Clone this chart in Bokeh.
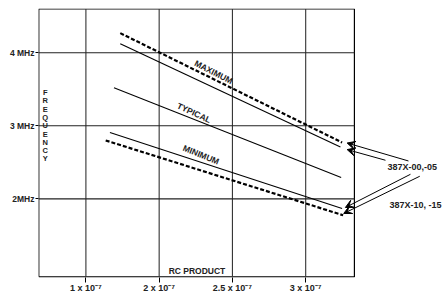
from bokeh.plotting import figure
from bokeh.models import ColumnDataSource, FixedTicker, Arrow, VeeHead
from bokeh.core.properties import value
from bokeh.embed import file_html
from bokeh.resources import INLINE

# ---- data (x: tick index positions, y: MHz) ----
x_ticks = [1, 2, 3, 4]
x_tick_labels = ["1 x 10\u207b\u2077", "2 x 10\u207b\u2077", "2.5 x 10\u207b\u2077", "3 x 10\u207b\u2077"]
y_ticks = [2, 3, 4]
y_tick_labels = ["2MHz", "3 MHz", "4 MHz"]

box_x = [0.357, 4.665]
box_y = [0.934, 4.598]

max_dashed_x = [1.469, 4.497]
max_dashed_y = [4.268, 2.772]
max_solid_x = [1.469, 4.474]
max_solid_y = [4.123, 2.709]
typical_x = [1.383, 4.484]
typical_y = [3.522, 2.294]
min_solid_x = [1.328, 4.497]
min_solid_y = [2.908, 1.869]
min_dashed_x = [1.270, 4.511]
min_dashed_y = [2.800, 1.777]

curve_labels = ["MAXIMUM", "TYPICAL", "MINIMUM"]
curve_label_x = [2.743, 2.475, 2.572]
curve_label_y = [3.735, 3.178, 2.604]
curve_label_angle = [-0.47, -0.43, -0.39]

arrow_x_start = [5.403, 5.089, 5.430, 5.557]
arrow_y_start = [2.519, 2.529, 2.337, 2.310]
arrow_x_end = [4.566, 4.566, 4.542, 4.519]
arrow_y_end = [2.765, 2.675, 1.883, 1.801]

part_labels = ["387X-00,-05", "387X-10, -15"]
part_label_x = [5.454, 5.50]
part_label_y = [2.437, 1.914]

FONT = "Liberation Sans"

p = figure(width=446, height=296, x_range=(0.353, 5.922), y_range=(0.925, 4.605),
           output_backend="svg", toolbar_location=None,
           min_border_left=38, min_border_right=0, min_border_top=8, min_border_bottom=19)
p.outline_line_color = None
p.xgrid.visible = False
p.ygrid.visible = False
p.background_fill_color = "white"
p.border_fill_color = "white"

for ax in (p.xaxis[0], p.yaxis[0]):
    ax.axis_line_color = None
    ax.minor_tick_line_color = None
    ax.major_tick_in = 0
    ax.major_tick_line_color = "black"
    ax.major_label_text_font = FONT
    ax.major_label_text_font_style = "bold"
    ax.major_label_text_color = "#222222"
    ax.major_label_text_font_size = "8.5px"

p.xaxis.ticker = FixedTicker(ticks=x_ticks)
p.xaxis.major_label_overrides = dict(zip(x_ticks, x_tick_labels))
p.xaxis.major_tick_out = 5
p.xaxis.major_label_standoff = 0
p.xaxis.major_label_text_font_size = "9px"
p.yaxis.ticker = FixedTicker(ticks=y_ticks)
p.yaxis.major_label_overrides = dict(zip(y_ticks, y_tick_labels))
p.yaxis.major_tick_out = 3
p.yaxis.major_label_standoff = 1

# box frame
p.multi_line(xs=[[box_x[0], box_x[1], box_x[1], box_x[0], box_x[0]]],
             ys=[[box_y[0], box_y[0], box_y[1], box_y[1], box_y[0]]],
             line_color="black", line_width=1.2)
# grid lines within the box
p.segment(x0=x_ticks, x1=x_ticks, y0=[box_y[0]] * len(x_ticks), y1=[box_y[1]] * len(x_ticks),
          line_color="#333333", line_width=1.1)
p.segment(x0=[box_x[0]] * len(y_ticks), x1=[box_x[1]] * len(y_ticks), y0=y_ticks, y1=y_ticks,
          line_color="#222222", line_width=1.1)

# curves
p.line(max_dashed_x, max_dashed_y, line_color="black", line_width=2.2, line_dash="4 2")
p.line(max_solid_x, max_solid_y, line_color="black", line_width=1.1)
p.line(typical_x, typical_y, line_color="black", line_width=1.1)
p.line(min_solid_x, min_solid_y, line_color="black", line_width=1.1)
p.line(min_dashed_x, min_dashed_y, line_color="black", line_width=2.2, line_dash="4 2")

# curve labels
p.text(x=curve_label_x, y=curve_label_y, text=curve_labels, angle=curve_label_angle,
       text_font=value(FONT), text_font_style="bold", text_font_size="8.5px",
       text_align="center", text_baseline="middle", text_color="#222222")

# axis titles inside the box
p.text(x=[0.444], y=[3.0], text=["F\nR\nE\nQ\nU\nE\nN\nC\nY"],
       text_font=value(FONT), text_font_style="bold", text_font_size="7.5px",
       text_line_height=0.92, text_align="center", text_baseline="middle", text_color="#222222")
p.text(x=[2.516], y=[1.016], text=["RC PRODUCT"],
       text_font=value(FONT), text_font_style="bold", text_font_size="8.5px",
       text_align="center", text_baseline="middle", text_color="#222222")

# arrows and part labels
asrc = ColumnDataSource(dict(xs=arrow_x_start, ys=arrow_y_start, xe=arrow_x_end, ye=arrow_y_end))
p.add_layout(Arrow(end=VeeHead(size=8, fill_color="black", line_color="black"),
                   x_start="xs", y_start="ys", x_end="xe", y_end="ye",
                   line_color="black", line_width=1.0, source=asrc))
p.text(x=part_label_x, y=part_label_y, text=part_labels,
       text_font=value(FONT), text_font_style="bold", text_font_size="9px",
       text_align="center", text_baseline="middle", text_color="#222222")

open("out.html", "w").write(file_html(p, INLINE))
